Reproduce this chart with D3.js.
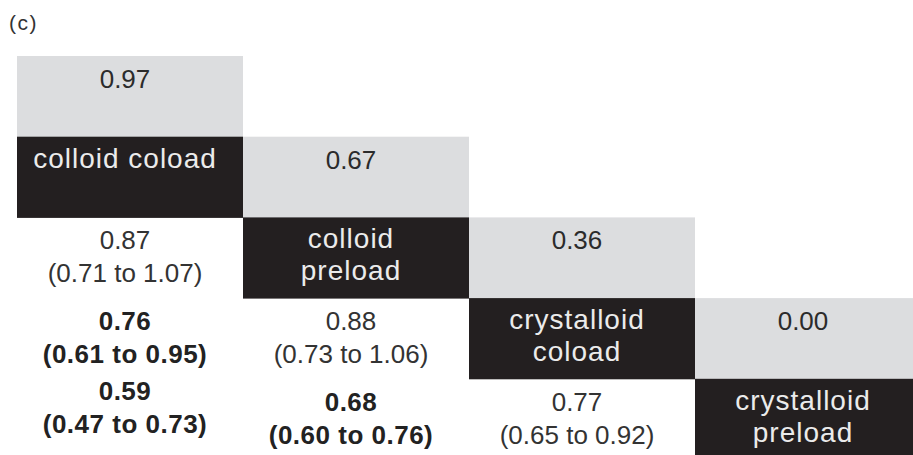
<!DOCTYPE html>
<html>
<head>
<meta charset="utf-8">
<script src="https://cdn.jsdelivr.net/npm/d3@7"></script>
<style>
  html, body { margin: 0; padding: 0; background: #fff; }
  svg { display: block; }
  text { font-family: "Liberation Sans", Arial, Helvetica, sans-serif; }
</style>
</head>
<body>
<svg id="chart" width="913" height="455"></svg>
<script>
// Treatments on the diagonal, in ranking order
const treatments = ["colloid coload", "colloid preload", "crystalloid coload", "crystalloid preload"];
// Diagonal label, split over lines
const labelLines = [["colloid coload"], ["colloid", "preload"], ["crystalloid", "coload"], ["crystalloid", "preload"]];
// Ranking score for each treatment
const pScores = [0.97, 0.67, 0.36, 0.00];

// Pairwise comparisons (lower triangle): row treatment vs column treatment
const compRow = ["colloid preload", "crystalloid coload", "crystalloid preload", "crystalloid coload", "crystalloid preload", "crystalloid preload"];
const compCol = ["colloid coload", "colloid coload", "colloid coload", "colloid preload", "colloid preload", "crystalloid coload"];
const estimates = [0.87, 0.76, 0.59, 0.88, 0.68, 0.77];
const lower = [0.71, 0.61, 0.47, 0.73, 0.60, 0.65];
const upper = [1.07, 0.95, 0.73, 1.06, 0.76, 0.92];
const significant = [false, true, true, false, true, false];

const svg = d3.select("#chart");
const fmt = d3.format(".2f");

const colW = 226, rowH = 80.7;
const x = d3.scaleBand().domain(treatments).range([17, 17 + treatments.length * colW]);
const y = d3.scaleBand().domain(d3.range(treatments.length + 1)).range([56, 56 + (treatments.length + 1) * rowH]);

const gray = "#dcdddf", black = "#231f20";
const textShift = -5;      // optical centring of the cell text
const firstBase = 32, lineGap = 33;
// local vertical adjustment for crowded cells (key: "gridRow-treatment")
const nudge = { "4-colloid coload": -11 };

// Panel tag
svg.append("text").attr("x", 9).attr("y", 30)
  .attr("font-size", 21).attr("letter-spacing", 1.5).attr("fill", "#333").text("(c)");

// Ranking score cells (gray) and treatment cells (black)
const diag = svg.append("g");
treatments.forEach((t, i) => {
  diag.append("rect")
    .attr("x", x(t)).attr("y", y(i))
    .attr("width", x.bandwidth()).attr("height", y.bandwidth() + 0.5)
    .attr("fill", gray);
  diag.append("text")
    .attr("x", x(t) + x.bandwidth() / 2 + textShift)
    .attr("y", y(i) + firstBase)
    .attr("text-anchor", "middle")
    .attr("font-size", 26).attr("fill", "#2b2b2b")
    .text(fmt(pScores[i]));

  diag.append("rect")
    .attr("x", x(t)).attr("y", y(i + 1))
    .attr("width", x.bandwidth()).attr("height", y.bandwidth() + 0.5)
    .attr("fill", black);
  const lbl = diag.append("text")
    .attr("text-anchor", "middle")
    .attr("font-size", 28).attr("letter-spacing", 1)
    .attr("fill", "#ebebeb");
  labelLines[i].forEach((ln, k) => {
    lbl.append("tspan")
      .attr("x", x(t) + x.bandwidth() / 2 + textShift)
      .attr("y", y(i + 1) + 31 + k * 32)
      .text(ln);
  });
});

// Comparison cells
const comps = estimates.map((e, k) => ({
  row: treatments.indexOf(compRow[k]) + 1,
  col: compCol[k], est: e, lo: lower[k], hi: upper[k], sig: significant[k]
}));

const cg = svg.append("g");
comps.forEach(c => {
  const dy = nudge[c.row + "-" + c.col] || 0;
  const cx = x(c.col) + x.bandwidth() / 2 + textShift;
  const t = cg.append("text")
    .attr("text-anchor", "middle")
    .attr("font-size", 26)
    .attr("font-weight", c.sig ? "bold" : "normal")
    .attr("letter-spacing", c.sig ? 0.5 : 0)
    .attr("fill", c.sig ? "#222" : "#333");
  t.append("tspan").attr("x", cx).attr("y", y(c.row) + firstBase + dy).text(fmt(c.est));
  t.append("tspan").attr("x", cx).attr("y", y(c.row) + firstBase + lineGap + dy)
    .text("(" + fmt(c.lo) + " to " + fmt(c.hi) + ")");
});
</script>
</body>
</html>
